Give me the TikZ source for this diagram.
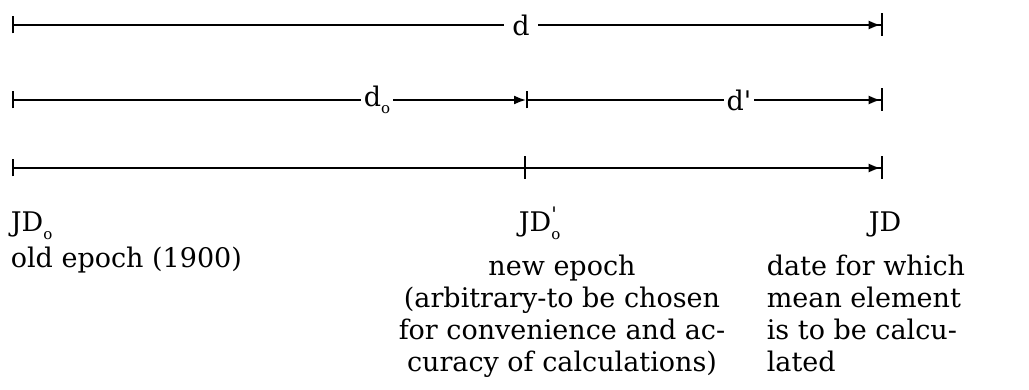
\documentclass[tikz,border=0pt]{standalone}
\usepackage{fontspec}
\setmainfont{DejaVu Serif}
\usetikzlibrary{arrows.meta}

\newcommand{\lowo}{\raisebox{-0.5ex}{\fontsize{15}{15}\selectfont o}}
\newcommand{\hiprime}{\rlap{\raisebox{0.75ex}{\fontsize{20}{20}\selectfont\textquotesingle}}}

\begin{document}
\begin{tikzpicture}[x=1pt, y=1pt, line width=1.7pt,
    font=\fontsize{27}{32}\selectfont,
    startbar/.style={{Bar[width=17pt,line width=2.4pt]}-},
    endtip/.style={-{Latex[length=12pt,width=9pt]Bar[width=23pt,line width=2.4pt]}},
    dist/.style={inner ysep=1pt, inner xsep=2pt, fill=white},
    txt/.style={anchor=base west, inner sep=0pt}]
  \useasboundingbox (0,0) rectangle (1029,-390);

  % end points of the three scales
  \coordinate (a1) at (12,-25);
  \coordinate (b1) at (883,-25);
  \coordinate (a2) at (12,-100);
  \coordinate (m2) at (526,-100);
  \coordinate (b2) at (883,-100);
  \coordinate (a3) at (12,-168);
  \coordinate (m3) at (526,-168);
  \coordinate (b3) at (883,-168);

  \node (d) [dist, inner xsep=8pt] at (521,-25) {d};
  \node (d0) [dist] at (377,-100) {d\lowo};
  \node (d1) [dist] at (739,-100) {d\textquotesingle};

  \draw[startbar] (a1) -- (d);
  \draw[endtip] (d) -- (b1);
  \draw[startbar] (a2) -- (d0);
  \draw[-{Latex[length=12pt,width=9pt]}] (d0) -- (m2);
  \draw[startbar] (m2) -- (d1);
  \draw[endtip] (d1) -- (b2);
  \draw[{Bar[width=17pt,line width=2.4pt]}-{Bar[width=23pt,line width=2.4pt]}] (a3) -- (m3);
  \draw[endtip] (m3) -- (b3);

  % labels below
  \node (jd0) [txt] at (10,-232) {JD\lowo};
  \node (old) [txt] at (10,-268) {old epoch (1900)};
  \node (jd1) [txt] at (518,-232) {JD\hiprime\lowo};
  \node (jd) [txt] at (868,-232) {JD};
  \node (new) [anchor=base, inner sep=0pt, align=center] at (562,-371)
    {new epoch\\(arbitrary-to be chosen\\for convenience and ac-\\curacy of calculations)};
  \node (date) [anchor=base west, inner sep=0pt, align=left] at (766,-371)
    {date for which\\mean element\\is to be calcu-\\lated};
\end{tikzpicture}
\end{document}
